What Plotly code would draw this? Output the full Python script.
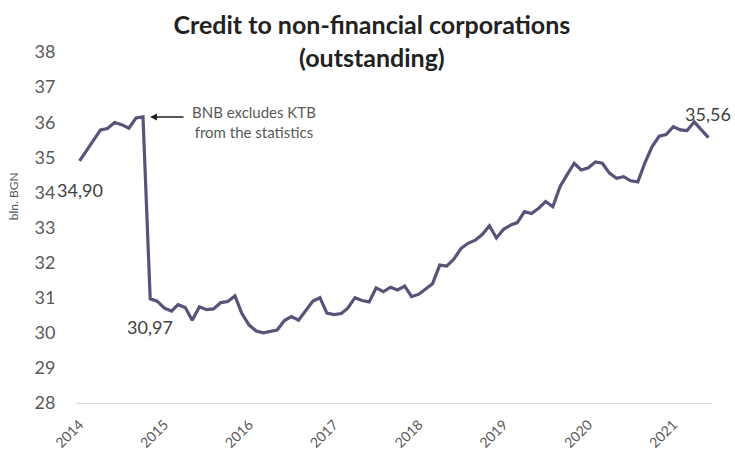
import pandas as pd
import plotly.graph_objects as go

# ---- data (monthly, bln. BGN) ----
start_month = "2014-01-01"
values = [
    34.90, 35.20, 35.50, 35.78, 35.82, 35.99, 35.93, 35.83, 36.12, 36.15,  # 2014 Jan-Oct
    30.97, 30.90,                                                          # 2014 Nov-Dec
    30.70, 30.62, 30.80, 30.72, 30.36, 30.74, 30.66, 30.68, 30.86, 30.89, 31.05, 30.55,  # 2015
    30.22, 30.05, 30.00, 30.03, 30.08, 30.35, 30.46, 30.36, 30.65, 30.90, 31.00, 30.56,  # 2016
    30.52, 30.55, 30.70, 31.00, 30.92, 30.88, 31.28, 31.17, 31.30, 31.22, 31.33, 31.03,  # 2017
    31.10, 31.25, 31.40, 31.93, 31.90, 32.10, 32.40, 32.55, 32.64, 32.80, 33.05, 32.70,  # 2018
    32.95, 33.07, 33.14, 33.45, 33.40, 33.55, 33.74, 33.59, 34.16, 34.50, 34.83, 34.64,  # 2019
    34.70, 34.87, 34.83, 34.55, 34.40, 34.45, 34.33, 34.30, 34.85, 35.30, 35.60, 35.65,  # 2020
    35.87, 35.78, 35.76, 36.01, 35.80, 35.56,                                            # 2021 Jan-Jun
]
months = pd.date_range(start_month, periods=len(values), freq="MS")
year_labels = ["2014", "2015", "2016", "2017", "2018", "2019", "2020", "2021"]
year_ticks = [pd.Timestamp(f"{y}-01-01") for y in year_labels]
y_ticks = list(range(28, 39))

labelled_points = [0, 10, len(values) - 1]   # indices of data labels
drop_index = 9                               # last month before KTB exclusion

title_text = "Credit to non-financial corporations<br>(outstanding)"
note_text = "BNB excludes KTB<br>from the statistics"
y_title = "bln. BGN"

FONT = "Lato"
line_color = "#5a5278"
tick_color = "#595959"

fig = go.Figure()
fig.add_trace(go.Scatter(
    x=months, y=values, mode="lines",
    line=dict(color=line_color, width=3.2),
    hoverinfo="x+y", showlegend=False,
))

def fmt(v):
    return f"{v:.2f}".replace(".", ",")

# data labels
shifts = {0: -29, 10: -28, len(values) - 1: 24}
for i in labelled_points:
    fig.add_annotation(
        x=months[i], y=values[i], text=fmt(values[i]), showarrow=False,
        yshift=shifts[i], font=dict(family=FONT, size=18, color="#404040"),
    )

# arrow callout
fig.add_annotation(
    x=months[drop_index], y=values[drop_index], text="", showarrow=True,
    ax=42, ay=0, arrowhead=2, arrowsize=1, arrowwidth=1.4,
    arrowcolor="#222222", standoff=7,
)
fig.add_annotation(
    x=months[drop_index], y=values[drop_index], text=note_text, showarrow=False,
    xanchor="left", yanchor="middle", xshift=47, yshift=-5, align="center",
    font=dict(family=FONT, size=15, color="#595959"),
)

# y axis title as rotated text
fig.add_annotation(
    xref="paper", yref="paper", x=-0.097, y=0.59, text=y_title,
    textangle=-90, showarrow=False, xanchor="center", yanchor="middle",
    font=dict(family=FONT, size=12, color=tick_color),
)

x_lo = months[0] - pd.Timedelta(days=15.5)
x_hi = months[-1] + pd.Timedelta(days=15.5)

fig.update_layout(
    width=735, height=457,
    margin=dict(l=76, r=23, t=52, b=54, autoexpand=False),
    paper_bgcolor="white", plot_bgcolor="white",
    font=dict(family=FONT, color=tick_color),
    title=dict(
        text=title_text, x=0.506, xanchor="center", xref="container",
        y=1 - 34 / 457, yanchor="middle", yref="container",
        font=dict(family=FONT, size=25, color="#222222", weight="bold"),
    ),
    xaxis=dict(
        type="date", range=[x_lo, x_hi], automargin=False,
        tickmode="array", tickvals=year_ticks, ticktext=year_labels,
        tickangle=-45, tickfont=dict(family=FONT, size=14, color=tick_color),
        ticks="outside", ticklen=7, tickcolor="rgba(0,0,0,0)",
        showgrid=False, zeroline=False,
        showline=True, linecolor="#d9d9d9", linewidth=1.2,
    ),
    yaxis=dict(
        range=[28, 38], tickmode="array", tickvals=y_ticks, automargin=False,
        tickfont=dict(family=FONT, size=18, color=tick_color),
        ticks="outside", ticklen=16, tickcolor="rgba(0,0,0,0)",
        showgrid=False, zeroline=False, showline=False,
    ),
)

fig.write_html("out.html")
